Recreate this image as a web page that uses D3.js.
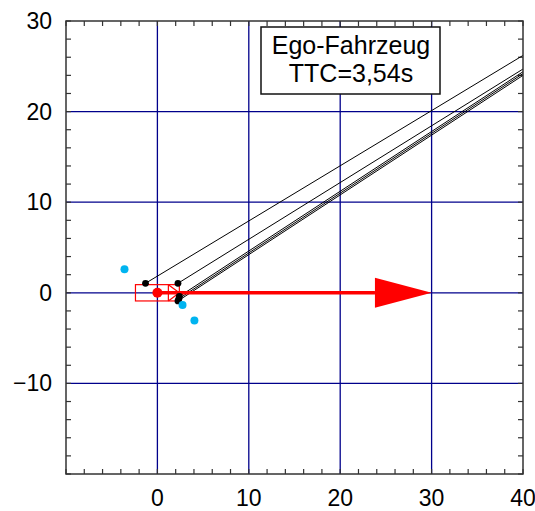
<!DOCTYPE html>
<html>
<head>
<meta charset="utf-8">
<script src="https://cdn.jsdelivr.net/npm/d3@7"></script>
<style>
 body { margin: 0; background: #fff; }
 text { font-family: "Liberation Sans", Arial, sans-serif; }
</style>
</head>
<body>
<div id="chart"></div>
<script>
// axis ticks
var xLabels = [0, 10, 20, 30, 40];
var yLabels = [30, 20, 10, 0, -10];
var gridX = [0, 10, 20, 30];
var gridY = [20, 10, 0, -10];

// ego vehicle outline (x0, y0, x1, y1) and front marker x
var egoBox = [-2.4, -0.9, 2.4, 0.9];
var egoFrontX = 1.2;
var egoCenter = [0, 0];

// velocity arrow
var arrowStart = [0, 0];
var arrowEnd = [30, 0];
var arrowHeadLen = 6.2;
var arrowHeadHalf = 1.65;

// tracked points and their projected lines
var blackPoints = [[-1.3, 1.05], [2.25, 1.05], [2.4, -0.4], [2.35, -0.65], [2.25, -0.9]];
var lineEnds = [[40, 26.2], [40, 24.7], [40, 24.4], [40, 24.2], [40, 24.0]];
var cyanPoints = [[-3.6, 2.6], [2.75, -1.35], [4.05, -3.05]];

var legendLines = ["Ego-Fahrzeug", "TTC=3,54s"];

var width = 535, height = 511;
var margin = { top: 21, right: 12, bottom: 37, left: 66 };

var svg = d3.select("#chart").append("svg")
  .attr("width", width)
  .attr("height", height);

var x = d3.scaleLinear().domain([-10, 40]).range([margin.left, width - margin.right]);
var y = d3.scaleLinear().domain([-20, 30]).range([height - margin.bottom, margin.top]);

svg.append("clipPath").attr("id", "clip")
  .append("rect")
  .attr("x", x(-10)).attr("y", y(30))
  .attr("width", x(40) - x(-10)).attr("height", y(-20) - y(30));

// grid lines
svg.selectAll(".gx").data(gridX).enter().append("line")
  .attr("x1", d => x(d)).attr("x2", d => x(d))
  .attr("y1", y(30)).attr("y2", y(-20))
  .attr("stroke", "#00008b").attr("stroke-width", 1.3);
svg.selectAll(".gy").data(gridY).enter().append("line")
  .attr("y1", d => y(d)).attr("y2", d => y(d))
  .attr("x1", x(-10)).attr("x2", x(40))
  .attr("stroke", "#00008b").attr("stroke-width", 1.3);

// minor ticks, inside, on all four sides
var tickLen = 5;
var g = svg.append("g").attr("stroke", "#333").attr("stroke-width", 1.2);
d3.range(-10, 41, 2).forEach(function(v) {
  g.append("line").attr("x1", x(v)).attr("x2", x(v)).attr("y1", y(30)).attr("y2", y(30) + tickLen);
  g.append("line").attr("x1", x(v)).attr("x2", x(v)).attr("y1", y(-20)).attr("y2", y(-20) - tickLen);
});
d3.range(-20, 31, 2).forEach(function(v) {
  g.append("line").attr("y1", y(v)).attr("y2", y(v)).attr("x1", x(-10)).attr("x2", x(-10) + tickLen);
  g.append("line").attr("y1", y(v)).attr("y2", y(v)).attr("x1", x(40)).attr("x2", x(40) - tickLen);
});

// tick labels
svg.selectAll(".xl").data(xLabels).enter().append("text")
  .attr("x", d => x(d)).attr("y", y(-20) + 32)
  .attr("text-anchor", "middle")
  .attr("font-size", 23)
  .text(d => d < 0 ? "\u2212" + (-d) : d);
svg.selectAll(".yl").data(yLabels).enter().append("text")
  .attr("x", x(-10) - 14).attr("y", d => y(d) + 8)
  .attr("text-anchor", "end")
  .attr("font-size", 23)
  .text(d => d < 0 ? "\u2212" + (-d) : d);

var plot = svg.append("g").attr("clip-path", "url(#clip)");

// projected lines
plot.selectAll(".trk").data(blackPoints).enter().append("line")
  .attr("x1", d => x(d[0])).attr("y1", d => y(d[1]))
  .attr("x2", (d, i) => x(lineEnds[i][0])).attr("y2", (d, i) => y(lineEnds[i][1]))
  .attr("stroke", "#000").attr("stroke-width", 1);

// ego vehicle
plot.append("rect")
  .attr("x", x(egoBox[0])).attr("y", y(egoBox[3]))
  .attr("width", x(egoBox[2]) - x(egoBox[0]))
  .attr("height", y(egoBox[1]) - y(egoBox[3]))
  .attr("fill", "none").attr("stroke", "#ff0000").attr("stroke-width", 1.2);
plot.append("path")
  .attr("d", d3.line()([[x(egoFrontX), y(egoBox[3])], [x(egoFrontX), y(egoBox[1])]]))
  .attr("stroke", "#ff0000").attr("stroke-width", 1.2).attr("fill", "none");
plot.append("path")
  .attr("d", d3.line()([[x(egoFrontX), y(egoBox[3])], [x(egoBox[2]), y(0)], [x(egoFrontX), y(egoBox[1])]]))
  .attr("stroke", "#ff0000").attr("stroke-width", 1.2).attr("fill", "none");

// arrow
plot.append("line")
  .attr("x1", x(arrowStart[0])).attr("y1", y(arrowStart[1]))
  .attr("x2", x(arrowEnd[0] - arrowHeadLen)).attr("y2", y(arrowEnd[1]))
  .attr("stroke", "#ff0000").attr("stroke-width", 3.5);
plot.append("path")
  .attr("d", d3.line()([
    [x(arrowEnd[0] - arrowHeadLen), y(arrowEnd[1] + arrowHeadHalf)],
    [x(arrowEnd[0]), y(arrowEnd[1])],
    [x(arrowEnd[0] - arrowHeadLen), y(arrowEnd[1] - arrowHeadHalf)]
  ]) + "Z")
  .attr("fill", "#ff0000");
plot.append("circle")
  .attr("cx", x(egoCenter[0])).attr("cy", y(egoCenter[1]))
  .attr("r", 5).attr("fill", "#ff0000");

// points
plot.selectAll(".bp").data(blackPoints).enter().append("circle")
  .attr("cx", d => x(d[0])).attr("cy", d => y(d[1]))
  .attr("r", 3.4).attr("fill", "#000");
plot.selectAll(".cp").data(cyanPoints).enter().append("circle")
  .attr("cx", d => x(d[0])).attr("cy", d => y(d[1]))
  .attr("r", 4).attr("fill", "#00b4f0");

// frame
svg.append("rect")
  .attr("x", x(-10)).attr("y", y(30))
  .attr("width", x(40) - x(-10)).attr("height", y(-20) - y(30))
  .attr("fill", "none").attr("stroke", "#333").attr("stroke-width", 1.5);

// legend box
var lg = svg.append("g");
lg.append("rect")
  .attr("x", 261).attr("y", 27).attr("width", 179).attr("height", 67)
  .attr("fill", "#fff").attr("stroke", "#111").attr("stroke-width", 1.5);
lg.selectAll("text").data(legendLines).enter().append("text")
  .attr("x", 351).attr("y", (d, i) => 54 + i * 28)
  .attr("text-anchor", "middle")
  .attr("font-size", 25)
  .text(d => d);
</script>
</body>
</html>
